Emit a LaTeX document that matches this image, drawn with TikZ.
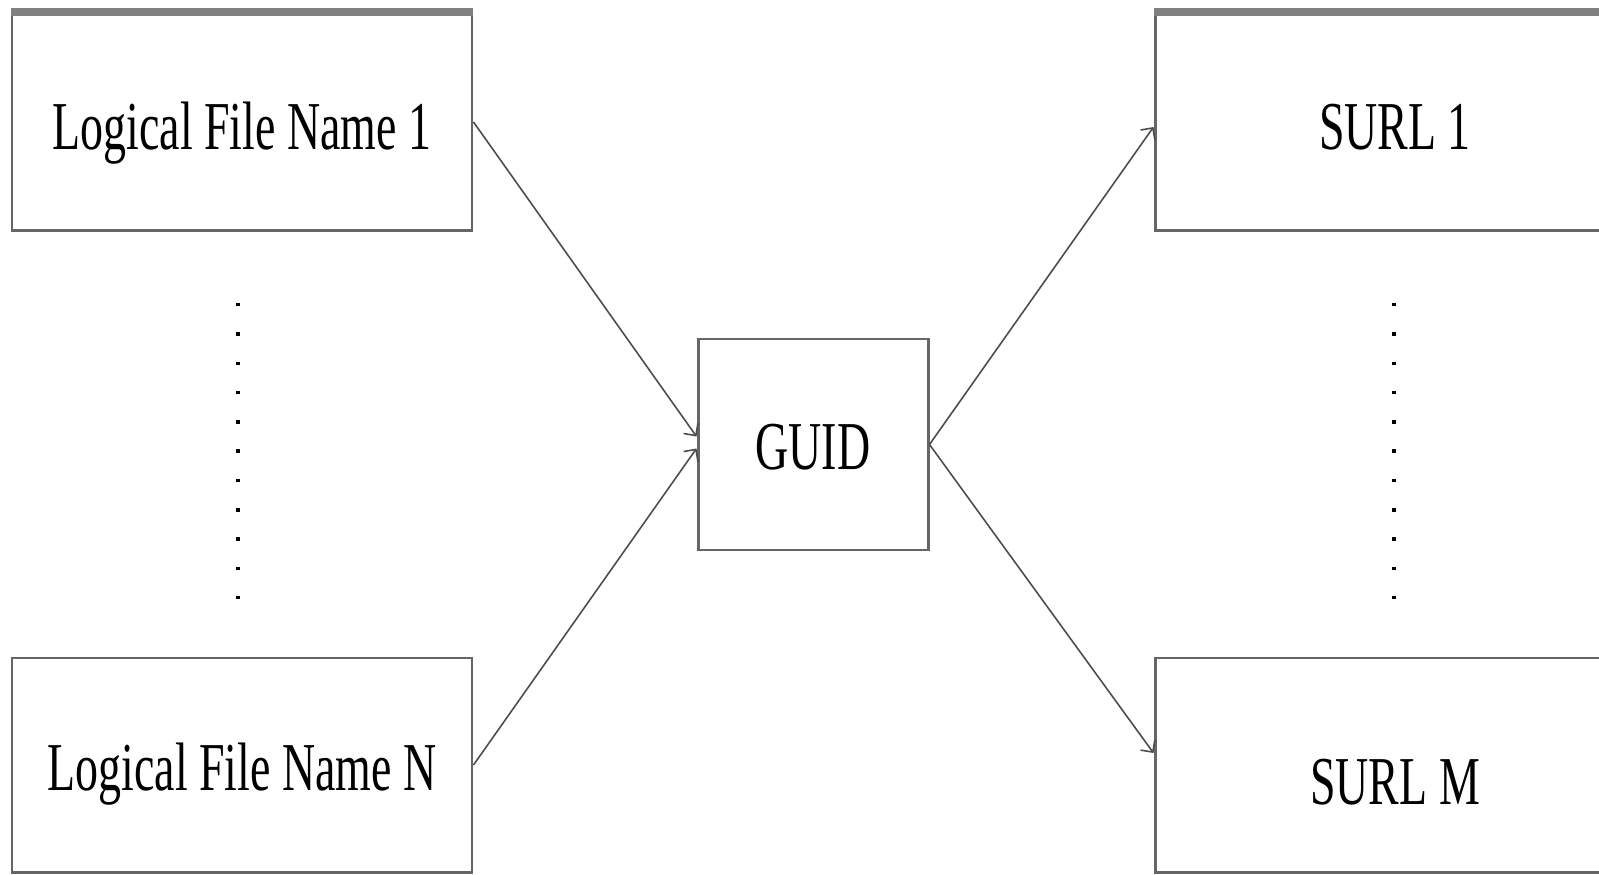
\documentclass[tikz,border=0pt]{standalone}
\usepackage{fontspec}
\setmainfont{Liberation Serif}[FakeStretch=0.67]
\usetikzlibrary{arrows.meta}

\tikzset{
	box/.style={draw=black!60, line width=0.85pt, inner sep=0pt, minimum width=4.6cm, minimum height=2.17cm, font=\fontsize{19.5}{23}\selectfont, text height=0.56cm, text depth=0pt},
	link/.style={draw=black!70, line width=0.45pt, -{Straight Barb[length=2.5pt,width=5pt]}},
	vdots/.style={line width=0.035cm, dash pattern=on 0.035cm off 0.258cm}
}

\begin{document}
\begin{tikzpicture}
	\useasboundingbox (0,0) rectangle (15.99,8.74);
	\clip (0,0) rectangle (15.99,8.74);

	\node[box] (lfn1) at (2.42,7.52) {Logical File Name 1};
	\node[box, minimum height=2.14cm, text height=0.51cm] (lfnN) at (2.42,1.09) {Logical File Name N};
	\node[box, minimum width=2.3cm, minimum height=2.11cm, text height=0.5cm] (guid) at (8.13,4.295) {GUID};
	\node[box, minimum width=4.8cm] (surl1) at (13.95,7.52) {SURL 1};
	\node[box, minimum width=4.8cm, minimum height=2.14cm, text height=0.79cm] (surlM) at (13.95,1.09) {SURL M};

	% heavier top edges
	\draw[black!50, line width=2.3pt] (lfn1.north west) -- (lfn1.north east);
	\draw[black!50, line width=2.3pt] (surl1.north west) -- (surl1.north east);

	\draw[vdots, shorten <=0.71cm, shorten >=0.55cm] ([xshift=-0.04cm]lfn1.south) -- ([xshift=-0.04cm]lfnN.north);
	\draw[vdots, shorten <=0.71cm, shorten >=0.55cm] ([xshift=-0.01cm]surl1.south) -- ([xshift=-0.01cm]surlM.north);

	\draw[link] (lfn1.east) -- ([yshift=0.08cm]guid.west);
	\draw[link] (lfnN.east) -- ([yshift=-0.04cm]guid.west);
	\draw[link] (guid.east) -- ([yshift=-0.05cm]surl1.west);
	\draw[link] (guid.east) -- ([yshift=0.12cm]surlM.west);
\end{tikzpicture}
\end{document}
